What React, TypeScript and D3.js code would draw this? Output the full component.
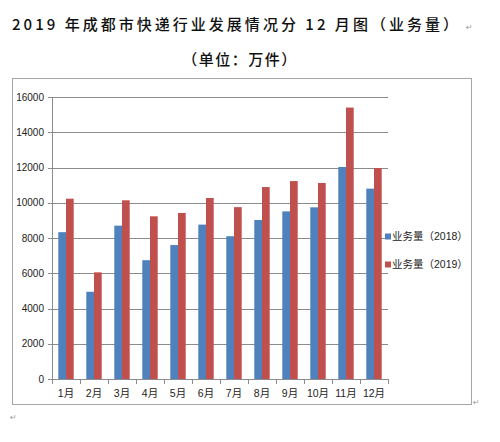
import React from 'react';
import * as d3 from 'd3';

const months = ['1月', '2月', '3月', '4月', '5月', '6月', '7月', '8月', '9月', '10月', '11月', '12月'];
const series = ['业务量（2018）', '业务量（2019）'];
const values2018 = [8330, 4950, 8700, 6740, 7600, 8760, 8100, 9020, 9510, 9740, 12030, 10800];
const values2019 = [10230, 6050, 10140, 9230, 9420, 10270, 9750, 10890, 11230, 11120, 15400, 11970];
const yTicks = [0, 2000, 4000, 6000, 8000, 10000, 12000, 14000, 16000];
const colors = ['#4f81bd', '#c0504d'];

const W = 500;
const H = 442;
const plot = { left: 52, right: 388, top: 97, bottom: 379 };
const gridColor = '#8c8c8c';
const labelFont = '"Liberation Sans", "Noto Sans CJK SC", sans-serif';
const titleFont = '"Noto Sans CJK SC", serif';

const App: React.FC = () => {
  const x = d3
    .scaleBand<string>()
    .domain(months)
    .range([plot.left, plot.right])
    .paddingInner(0.45)
    .paddingOuter(0.225);
  const inner = d3.scaleBand<number>().domain([0, 1]).range([0, x.bandwidth()]);
  const y = d3.scaleLinear().domain([0, 16000]).range([plot.bottom, plot.top]);
  const data = [values2018, values2019];
  const gap = (x.step() - x.bandwidth()) / 2;
  const boundaries = months.map((m) => (x(m) as number) - gap).concat([plot.right]);

  return (
    <svg
      width={W}
      height={H}
      style={{ position: 'absolute', left: 0, top: 0, background: '#fff' }}
    >
      {/* titles */}
      <text
        x={12}
        y={30}
        fontFamily={titleFont}
        fontWeight={500}
        fontSize={15}
        textLength={446}
        lengthAdjust="spacing"
        fill="#111"
      >
        2019 年成都市快递行业发展情况分 12 月图（业务量）
      </text>
      <text x={466} y={30} fontFamily="DejaVu Sans" fontSize={8} fill="#999">↵</text>
      <text
        x={240}
        y={65}
        textAnchor="middle"
        fontFamily={titleFont}
        fontWeight={500}
        fontSize={15}
        letterSpacing={1.5}
        fill="#111"
      >
        （单位：万件）
      </text>

      {/* chart border */}
      <rect x={12.5} y={78.5} width={459} height={326} fill="none" stroke="#a6a6a6" strokeWidth={1} />
      <text x={473} y={405} fontFamily="DejaVu Sans" fontSize={8} fill="#999">↵</text>
      <text x={10} y={420} fontFamily="DejaVu Sans" fontSize={8} fill="#999">↵</text>

      {/* gridlines and y axis */}
      {yTicks.map((t) => (
        <g key={t}>
          <line
            x1={plot.left - 4}
            x2={plot.right}
            y1={Math.round(y(t)) + 0.5}
            y2={Math.round(y(t)) + 0.5}
            stroke={gridColor}
            strokeWidth={1}
          />
          <text
            x={44}
            y={y(t)}
            dy="0.35em"
            textAnchor="end"
            fontFamily={labelFont}
            fontSize={10}
            fill="#222"
          >
            {t}
          </text>
        </g>
      ))}
      <line x1={plot.left + 0.5} x2={plot.left + 0.5} y1={plot.top} y2={plot.bottom} stroke={gridColor} />

      {/* bars */}
      {data.map((vals, si) =>
        vals.map((v, i) => (
          <rect
            key={`${si}-${i}`}
            x={(x(months[i]) as number) + (inner(si) as number)}
            y={y(v)}
            width={inner.bandwidth()}
            height={y(0) - y(v)}
            fill={colors[si]}
          />
        ))
      )}

      {/* x axis */}
      <line x1={plot.left} x2={plot.right} y1={plot.bottom + 0.5} y2={plot.bottom + 0.5} stroke={gridColor} />
      {boundaries.map((bx, i) => (
        <line
          key={i}
          x1={Math.round(bx) + 0.5}
          x2={Math.round(bx) + 0.5}
          y1={plot.bottom}
          y2={plot.bottom + 5}
          stroke={gridColor}
        />
      ))}
      {months.map((m) => (
        <text
          key={m}
          x={(x(m) as number) + x.bandwidth() / 2}
          y={393}
          dy="0.35em"
          textAnchor="middle"
          fontFamily={labelFont}
          fontSize={10.5}
          fill="#222"
        >
          {m}
        </text>
      ))}

      {/* legend */}
      {series.map((s, i) => (
        <g key={s} transform={`translate(385, ${236.5 + i * 28})`}>
          <rect x={0} y={-3} width={6} height={6} fill={colors[i]} />
          <text x={7} y={0} dy="0.35em" fontFamily={labelFont} fontSize={10.5} fill="#222">
            {s}
          </text>
        </g>
      ))}
    </svg>
  );
};

export default App;
